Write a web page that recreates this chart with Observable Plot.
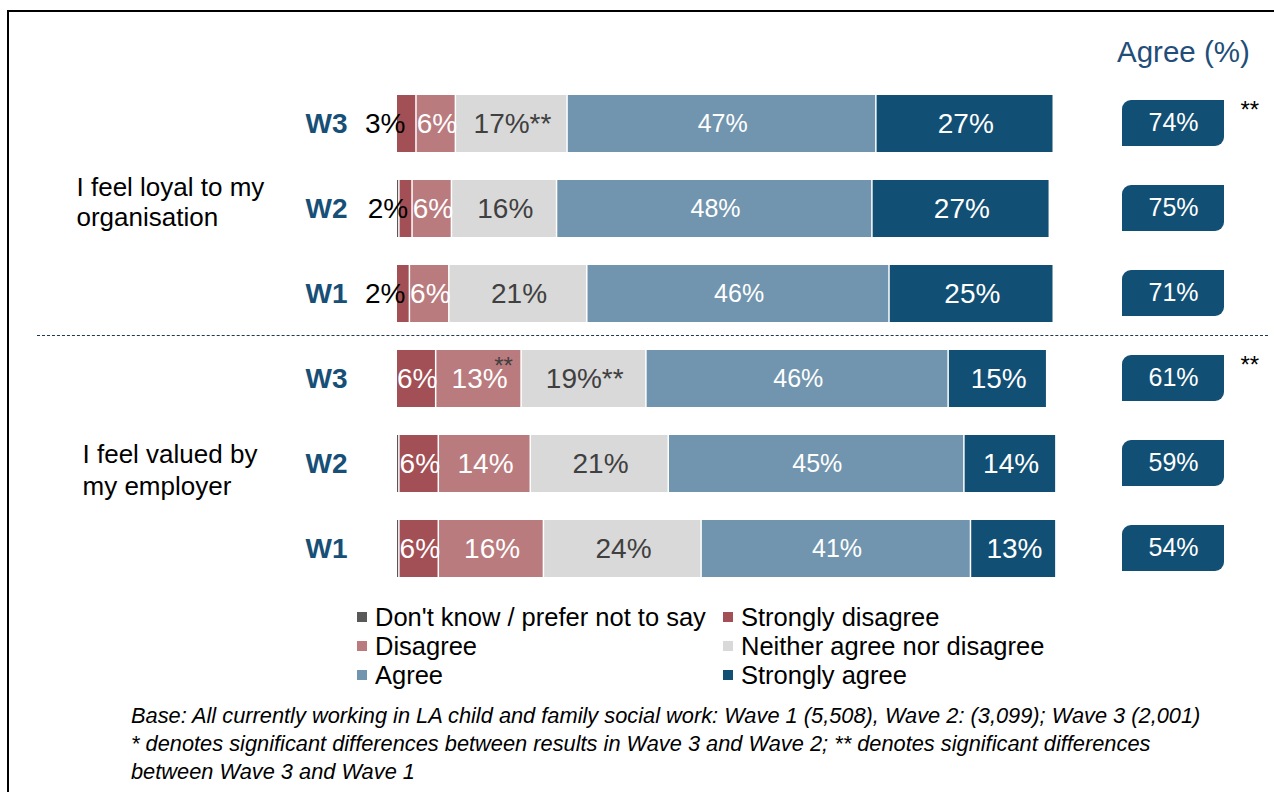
<!DOCTYPE html>
<html><head><meta charset="utf-8">
<script src="https://cdn.jsdelivr.net/npm/d3@7"></script>
<script src="https://cdn.jsdelivr.net/npm/@observablehq/plot@0.6"></script>
<style>
body{margin:0;background:#fff;font-family:"Liberation Sans",Arial,sans-serif;}
#wrap{position:relative;width:1274px;height:792px;overflow:hidden;background:#fff;}
#frame{position:absolute;left:7px;top:10px;width:1320px;height:820px;border:2px solid #000;box-sizing:border-box;}
#bars{position:absolute;left:0;top:0;}
#agree{position:absolute;left:1100px;top:0;}
#hdr{position:absolute;left:1117px;top:35px;font-size:29.5px;line-height:34px;color:#1F4E79;}
#sep{position:absolute;left:37px;top:335px;width:1231px;border-top:1.5px dashed #1F3A56;}
#legend{position:absolute;left:357px;top:603px;display:grid;grid-template-columns:366px 366px;font-size:25.5px;line-height:29px;color:#000;}
#legend .sw{display:inline-block;width:10px;height:10px;margin-right:8px;vertical-align:middle;position:relative;top:-2px;}
#note{position:absolute;left:131px;top:702px;font-size:21.8px;line-height:28px;font-style:italic;color:#000;white-space:nowrap;}
</style></head>
<body><div id="wrap">
<div id="frame"></div>
<div id="bars"></div>
<div id="agree"></div>
<div id="hdr">Agree (%)</div>
<div id="sep"></div>
<div id="legend"></div>
<div id="note"></div>
</div>
<script>
const waves = ["W3", "W2", "W1"];
const questions = ["I feel loyal to my\norganisation", "I feel valued by\nmy employer"];
const series = ["Don't know / prefer not to say", "Strongly disagree", "Disagree", "Neither agree nor disagree", "Agree", "Strongly agree"];
const seriesColors = ["#595959", "#A24F55", "#BA7B7E", "#D9D9D9", "#7195AE", "#124F74"];
// rows in order: loyal W3, W2, W1, valued W3, W2, W1
const dontKnow = [0, 0.4, 0, 0, 0.4, 0.4];
const stronglyDisagree = [3, 2, 2, 6, 6, 6];
const disagree = [6, 6, 6, 13, 14, 16];
const neither = [17, 16, 21, 19, 21, 24];
const agree = [47, 48, 46, 46, 45, 41];
const stronglyAgree = [27, 27, 25, 15, 14, 13];
const agreeTotal = [74, 75, 71, 61, 59, 54];
const agreeSig = ["**", "", "", "**", "", ""];
const neitherSig = ["**", "", "", "**", "", ""];
const disagreeSig = ["", "", "", "**", "", ""];
const footnote = [
  "Base: All currently working in LA child and family social work: Wave 1 (5,508), Wave 2: (3,099); Wave 3 (2,001)",
  "* denotes significant differences between results in Wave 3 and Wave 2; ** denotes significant differences",
  "between Wave 3 and Wave 1"
];

const valuesBySeries = [dontKnow, stronglyDisagree, disagree, neither, agree, stronglyAgree];
const rows = [];
questions.forEach((q, qi) => waves.forEach((w, wi) => {
  const i = qi * waves.length + wi;
  rows.push({key: qi + "-" + w, q, qi, wave: w, i, total: agreeTotal[i], sig: agreeSig[i]});
}));
const keys = rows.map(r => r.key);
const long = rows.flatMap(r => series.map((s, j) => ({row: r.key, series: s, j, i: r.i, value: valuesBySeries[j][r.i]})));

const font = '"Liberation Sans", Arial, sans-serif';
const yScale = {domain: keys, axis: null, padding: 0.33};

const bars = Plot.plot({
  width: 1100, height: 606, marginLeft: 397, marginRight: 46, marginTop: 66, marginBottom: 0,
  x: {domain: [0, 100], axis: null},
  y: yScale,
  color: {domain: series, range: seriesColors},
  style: {fontFamily: font, background: "transparent", overflow: "visible"},
  marks: [
    Plot.barX(long, Plot.stackX({x: "value", y: "row", z: "series", fill: "series", insetRight: 1.5})),
    Plot.text(long, Plot.stackX({x: "value", y: "row", z: "series",
      text: d => ((d.j === 1 && d.value >= 4) || d.j === 2 || d.j === 4 || d.j === 5) ? d.value + "%" : null,
      fill: "white", fontSize: d => d.j === 4 ? 25 : 28})),
    Plot.text(long, Plot.stackX({x: "value", y: "row", z: "series",
      text: d => d.j === 3 ? d.value + "%" + neitherSig[d.i] : null,
      fill: "#404040", fontSize: 28})),
    Plot.text(long, Plot.stackX1({x: "value", y: "row", z: "series",
      text: d => (d.j === 1 && d.value < 4) ? d.value + "%" : null,
      textAnchor: "end", dx: 8, fill: "#000", fontSize: 28})),
    Plot.text(long, Plot.stackX({x: "value", y: "row", z: "series",
      text: d => (d.j === 2 && disagreeSig[d.i]) ? disagreeSig[d.i] : null,
      dx: 24, dy: -13, fill: "#404040", fontSize: 24})),
    Plot.text(rows, {y: "key", text: "wave", frameAnchor: "left", textAnchor: "start", dx: -92,
      fontWeight: "bold", fontSize: 28, fill: "#174F77"}),
    Plot.text(rows.filter(r => r.wave === "W2" && r.qi === 0), {y: "key", text: "q", frameAnchor: "left",
      textAnchor: "start", dx: -321, dy: -8, fontSize: 26, lineHeight: 1.16, fill: "#000"}),
    Plot.text(rows.filter(r => r.wave === "W2" && r.qi === 1), {y: "key", text: "q", frameAnchor: "left",
      textAnchor: "start", dx: -315, dy: 5, fontSize: 26, lineHeight: 1.22, fill: "#000"})
  ]
});
document.getElementById("bars").appendChild(bars);

const boxColor = seriesColors[5];
const agreePlot = Plot.plot({
  width: 174, height: 606, marginLeft: 22, marginRight: 50, marginTop: 66, marginBottom: 0,
  y: yScale,
  style: {fontFamily: font, background: "transparent", overflow: "visible"},
  marks: [
    Plot.cell(rows, {y: "key", fill: boxColor, rx: 9, insetTop: 5, insetBottom: 6}),
    Plot.cell(rows, {y: "key", fill: boxColor, insetTop: 5, insetBottom: 29, insetLeft: 51}),
    Plot.cell(rows, {y: "key", fill: boxColor, insetTop: 29, insetBottom: 6, insetRight: 51}),
    Plot.text(rows, {y: "key", text: d => d.total + "%", frameAnchor: "middle", fill: "white", fontSize: 25, dy: -1}),
    Plot.text(rows, {y: "key", text: d => d.sig || null, frameAnchor: "right", textAnchor: "start",
      dx: 16, dy: -14, fontSize: 24, fill: "#000"})
  ]
});
document.getElementById("agree").appendChild(agreePlot);

// legend, 2 columns
const legend = document.getElementById("legend");
series.forEach((s, j) => {
  const item = document.createElement("div");
  const sw = document.createElement("span");
  sw.className = "sw";
  sw.style.background = seriesColors[j];
  item.appendChild(sw);
  item.appendChild(document.createTextNode(s));
  legend.appendChild(item);
});

const note = document.getElementById("note");
footnote.forEach((line, k) => {
  if (k) note.appendChild(document.createElement("br"));
  note.appendChild(document.createTextNode(line));
});
</script>
</body></html>
